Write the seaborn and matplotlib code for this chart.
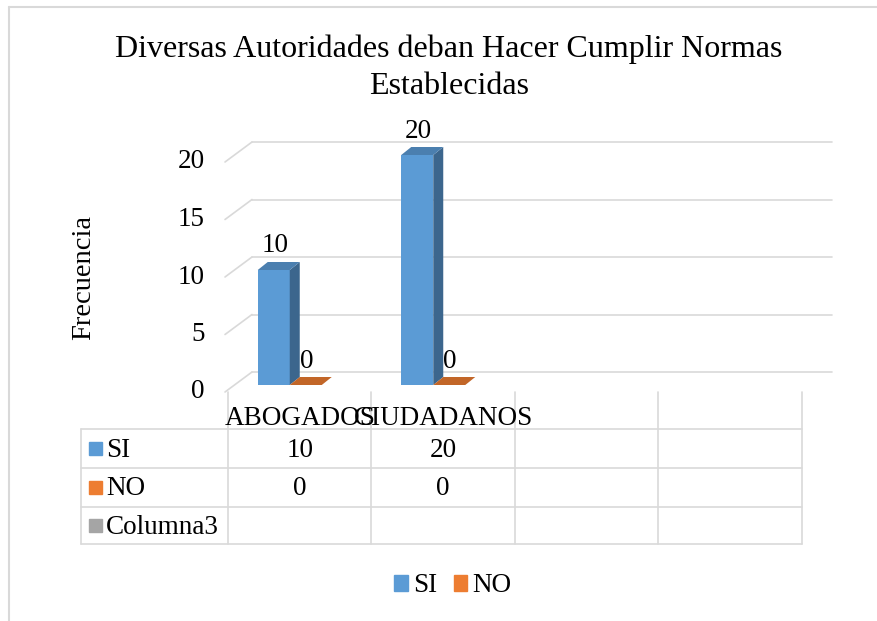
import numpy as np
import pandas as pd
import matplotlib
matplotlib.use("Agg")
import matplotlib.pyplot as plt
import matplotlib.transforms as mtransforms
from matplotlib.patches import Polygon, Patch, Rectangle
from matplotlib.lines import Line2D
import seaborn as sns

# ---------------- data ----------------
titulo_lineas = ["Diversas Autoridades deban Hacer Cumplir Normas", "Establecidas"]
eje_y = "Frecuencia"
categorias = ["ABOGADOS", "CIUDADANOS", "", " "]
series = ["SI", "NO", "Columna3"]
valores_si = [10, 20, None, None]
valores_no = [0, 0, None, None]
valores_col3 = [None, None, None, None]
ticks_y = [0, 5, 10, 15, 20]
colores = {"SI": "#5B9BD5", "NO": "#ED7D31", "Columna3": "#A5A5A5"}

tabla = {"SI": valores_si, "NO": valores_no, "Columna3": valores_col3}
rows = []
for serie in series:
    for cat, v in zip(categorias, tabla[serie]):
        if v is not None:
            rows.append({"categoria": cat, "serie": serie, "valor": v})
df = pd.DataFrame(rows)

# ---------------- style ----------------
sns.set_style("white")
plt.rcParams["font.family"] = ["Liberation Serif", "DejaVu Serif"]
plt.rcParams["text.color"] = "black"
FS = 19.5
GRID = "#D9D9D9"

W, H = 878, 621
fig = plt.figure(figsize=(W / 100, H / 100), dpi=100)
AX_L, AX_B, AX_W, AX_H = 234, 385, 574, 230   # bar front plane (pixels)
ax = fig.add_axes([AX_L / W, (H - AX_B) / H, AX_W / W, AX_H / H])

sns.barplot(data=df, x="categoria", y="valor", hue="serie", order=categorias,
            hue_order=series, palette=colores, width=0.669, gap=0, saturation=1,
            linewidth=0, legend=False, errorbar=None, ax=ax, zorder=3)
ax.set_xlim(-0.5, len(categorias) - 0.5)
ax.set_ylim(0, ticks_y[-1])
ax.set_axis_off()

sx = (len(categorias)) / AX_W      # data units per pixel
sy = ticks_y[-1] / AX_H

# depth offsets (pixels)
FRONT = (-9, -7)
BACK = (18, 13)
BAR_D = (10, 8)
x0, x1 = -0.5, len(categorias) - 0.5

# back wall gridlines and side wall diagonals
for v in ticks_y:
    ax.plot([x0 + BACK[0] * sx, x1 + 24 * sx], [v + BACK[1] * sy] * 2,
            color=GRID, lw=1.2, clip_on=False, zorder=1)
    ax.plot([x0 + FRONT[0] * sx, x0 + BACK[0] * sx],
            [v + FRONT[1] * sy, v + BACK[1] * sy],
            color=GRID, lw=1.2, clip_on=False, zorder=1)
    ax.text(x0 + (FRONT[0] - 20) * sx, v + FRONT[1] * sy, f"{v}",
            ha="right", va="center", fontsize=FS)

# 3D faces of bars + value labels
for cont in ax.containers:
    for bar, val in zip(cont, cont.datavalues):
        if np.isnan(val):
            continue
        xb, wb, hb = bar.get_x(), bar.get_width(), bar.get_height()
        rgb = np.array(bar.get_facecolor()[:3])
        side = tuple(rgb * 0.66)
        top = tuple(rgb * 0.82)
        dx, dy = BAR_D[0] * sx, BAR_D[1] * sy
        ax.add_patch(Polygon([(xb + wb, 0), (xb + wb + dx, dy),
                              (xb + wb + dx, hb + dy), (xb + wb, hb)],
                             closed=True, facecolor=side, edgecolor="none",
                             zorder=3, clip_on=False))
        ax.add_patch(Polygon([(xb, hb), (xb + dx, hb + dy),
                              (xb + wb + dx, hb + dy), (xb + wb, hb)],
                             closed=True, facecolor=top, edgecolor="none",
                             zorder=3, clip_on=False))
        ax.text(xb + wb / 2 + sx, hb + 17.5 * sy, f"{val:g}",
                ha="center", va="baseline", fontsize=FS, zorder=4)

# ---------------- data table ----------------
fig.canvas.draw()
tab_off = mtransforms.ScaledTranslation(-6 / 100, 0, fig.dpi_scale_trans)
T = mtransforms.blended_transform_factory(ax.transData, fig.transFigure) + tab_off
fy = lambda py: 1 - py / H
right_px = ax.transData.transform((x1, 0))[0] - 6
left_px = 81
row_edges = [429, 468, 507, 544]
header_top = 392
for i in range(len(categorias) + 1):
    ax.plot([x0 + i] * 2, [fy(header_top), fy(row_edges[-1])], transform=T,
            color=GRID, lw=1.2, clip_on=False)
fig.add_artist(Line2D([left_px / W] * 2, [fy(row_edges[0]), fy(row_edges[-1])],
                      color=GRID, lw=1.2))
for ry in row_edges:
    fig.add_artist(Line2D([left_px / W, right_px / W], [fy(ry)] * 2,
                          color=GRID, lw=1.2))
# header
for i, cat in enumerate(categorias):
    ax.text(i, fy(425), cat, transform=T, ha="center", va="baseline", fontsize=FS)
# rows
baselines = [457, 495, 534]
for serie, bl, (ra, rb) in zip(series, baselines, zip(row_edges[:-1], row_edges[1:])):
    cy = (ra + rb) / 2
    fig.add_artist(Rectangle((89 / W, fy(cy + 6.5)), 13 / W, 13 / H,
                             transform=fig.transFigure, color=colores[serie]))
    fig.text(106 / W, fy(bl), serie, ha="left", va="baseline", fontsize=FS)
    for i, v in enumerate(tabla[serie]):
        if v is not None:
            ax.text(i, fy(bl), f"{v:g}", transform=T, ha="center",
                    va="baseline", fontsize=FS)

# ---------------- titles, legend, frame ----------------
fig.text(449 / W, fy(57), titulo_lineas[0], ha="center", va="baseline", fontsize=23)
fig.text(449 / W, fy(94), titulo_lineas[1], ha="center", va="baseline", fontsize=23)
fig.text(84 / W, fy(277), eje_y, rotation=90, ha="center", va="center", fontsize=20.5)

handles = [Patch(color=colores[s]) for s in series[:2]]
fig.legend(handles, series[:2], loc="center", bbox_to_anchor=(453 / W, fy(586)),
           ncol=2, frameon=False, fontsize=FS, handlelength=0.5, handleheight=0.5,
           handletextpad=0.2, columnspacing=0.6, borderpad=0)

fig.add_artist(Line2D([9 / W, 1], [fy(7)] * 2, color=GRID, lw=1.5))
fig.add_artist(Line2D([9 / W] * 2, [fy(7), 0], color=GRID, lw=1.5))

fig.savefig("out.png", dpi=100)
